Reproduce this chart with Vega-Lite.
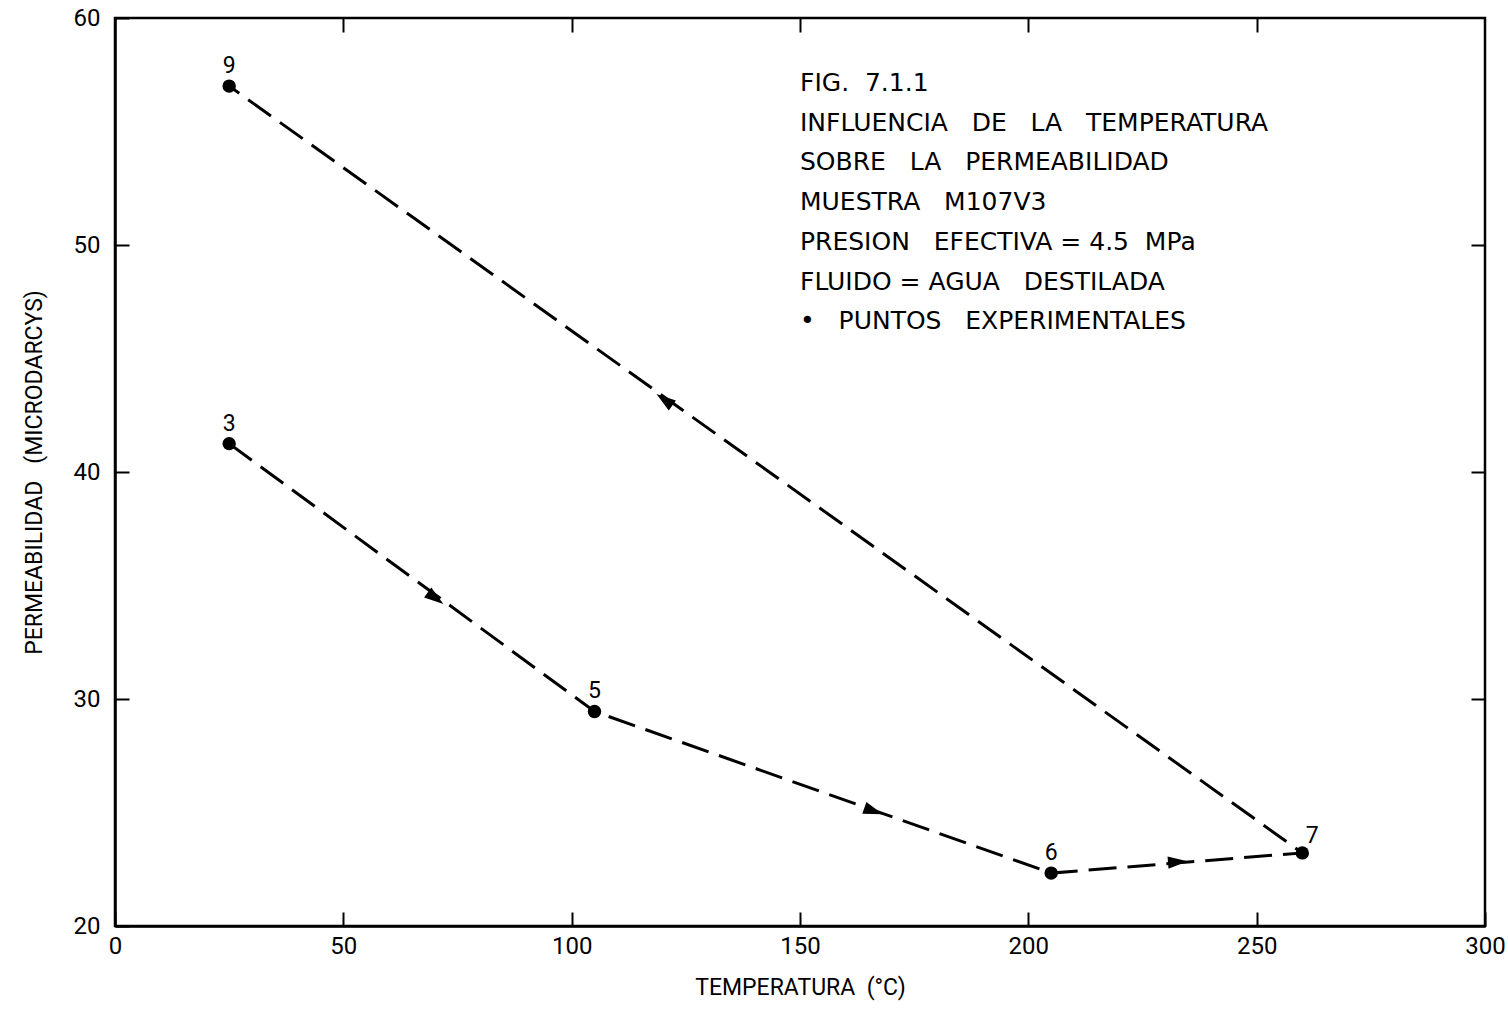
{
  "$schema": "https://vega.github.io/schema/vega-lite/v6.json",
  "autosize": {"type": "none"},
  "padding": {"left": 115, "top": 18, "right": 23, "bottom": 102},
  "width": 1370,
  "height": 908,
  "background": "white",
  "config": {
    "view": {"stroke": "black", "strokeWidth": 2.5},
    "font": "Roboto",
    "axis": {
      "grid": false,
      "domainColor": "black",
      "domainWidth": 2.5,
      "tickColor": "black",
      "tickWidth": 2,
      "tickSize": -14,
      "labelColor": "black",
      "labelFontSize": 24,
      "labelFont": "Roboto",
      "titleFont": "Roboto",
      "titleFontSize": 23,
      "titleFontWeight": "normal",
      "titleColor": "black",
      "labelFlush": false,
      "labelOverlap": false
    }
  },
  "datasets": {
    "points": [
      {"temp": 25, "perm": 41.25, "label": "3", "seq": 1},
      {"temp": 105, "perm": 29.45, "label": "5", "seq": 2},
      {"temp": 205, "perm": 22.33, "label": "6", "seq": 3},
      {"temp": 260, "perm": 23.22, "label": "7", "seq": 4},
      {"temp": 25, "perm": 57.0, "label": "9", "seq": 5}
    ],
    "arrows": [
      {"temp": 70.1, "perm": 34.45, "heading": 126.3},
      {"temp": 166.0, "perm": 25.07, "heading": 109.3},
      {"temp": 232.6, "perm": 22.82, "heading": 85.5},
      {"temp": 120.4, "perm": 43.17, "heading": 305.5}
    ],
    "notes": [
      {"temp": 150, "perm": 56.78, "text": "FIG.\u00a0\u00a07.1.1\nINFLUENCIA\u00a0\u00a0\u00a0DE\u00a0\u00a0\u00a0LA\u00a0\u00a0\u00a0TEMPERATURA\nSOBRE\u00a0\u00a0\u00a0LA\u00a0\u00a0\u00a0PERMEABILIDAD\nMUESTRA\u00a0\u00a0\u00a0M107V3\nPRESION\u00a0\u00a0\u00a0EFECTIVA\u00a0=\u00a04.5\u00a0\u00a0MPa\nFLUIDO\u00a0=\u00a0AGUA\u00a0\u00a0\u00a0DESTILADA\n•\u00a0\u00a0\u00a0PUNTOS\u00a0\u00a0\u00a0EXPERIMENTALES"}
    ]
  },
  "layer": [
    {
      "data": {"name": "points"},
      "mark": {"type": "line", "color": "black", "strokeWidth": 3, "strokeDash": [28, 11]},
      "encoding": {
        "x": {"field": "temp", "type": "quantitative", "scale": {"domain": [0, 300], "nice": false, "zero": false},
          "axis": {"orient": "bottom", "values": [0, 50, 100, 150, 200, 250, 300], "title": "TEMPERATURA\u00a0\u00a0(°C)", "labelFontSize": 24, "labelPadding": 22, "titlePadding": 18}},
        "y": {"field": "perm", "type": "quantitative", "scale": {"domain": [20, 60], "nice": false, "zero": false},
          "axis": {"orient": "left", "values": [20, 30, 40, 50, 60], "title": "PERMEABILIDAD\u00a0\u00a0\u00a0(MICRODARCYS)", "labelFontSize": 24, "labelPadding": 29, "titlePadding": 27}},
        "order": {"field": "seq", "type": "quantitative"}
      }
    },
    {
      "data": {"name": "points"},
      "mark": {"type": "point", "filled": true, "color": "black", "size": 180, "opacity": 1},
      "encoding": {
        "x": {"field": "temp", "type": "quantitative", "scale": {"domain": [0, 300], "nice": false, "zero": false},
          "axis": {"orient": "top", "values": [50, 100, 150, 200, 250], "labels": false, "title": null, "domain": false}},
        "y": {"field": "perm", "type": "quantitative", "scale": {"domain": [20, 60], "nice": false, "zero": false},
          "axis": {"orient": "right", "values": [30, 40, 50], "labels": false, "title": null, "domain": false}}
      }
    },
    {
      "data": {"name": "arrows"},
      "mark": {"type": "point", "filled": true, "color": "black", "opacity": 1, "size": 420, "shape": "M0,-1L0.6,0.9L-0.6,0.9Z"},
      "encoding": {
        "x": {"field": "temp", "type": "quantitative", "scale": {"domain": [0, 300], "nice": false, "zero": false}, "axis": null},
        "y": {"field": "perm", "type": "quantitative", "scale": {"domain": [20, 60], "nice": false, "zero": false}, "axis": null},
        "angle": {"field": "heading", "type": "quantitative", "scale": null}
      }
    },
    {
      "data": {"name": "points"},
      "transform": [{"filter": "datum.label != '7'"}],
      "mark": {"type": "text", "color": "black", "fontSize": 23, "dy": -20, "baseline": "middle", "align": "center"},
      "encoding": {
        "x": {"field": "temp", "type": "quantitative", "scale": {"domain": [0, 300], "nice": false, "zero": false}, "axis": null},
        "y": {"field": "perm", "type": "quantitative", "scale": {"domain": [20, 60], "nice": false, "zero": false}, "axis": null},
        "text": {"field": "label"}
      }
    },
    {
      "data": {"name": "points"},
      "transform": [{"filter": "datum.label == '7'"}],
      "mark": {"type": "text", "color": "black", "fontSize": 23, "dy": -17, "dx": 10, "baseline": "middle", "align": "center"},
      "encoding": {
        "x": {"field": "temp", "type": "quantitative", "scale": {"domain": [0, 300], "nice": false, "zero": false}, "axis": null},
        "y": {"field": "perm", "type": "quantitative", "scale": {"domain": [20, 60], "nice": false, "zero": false}, "axis": null},
        "text": {"field": "label"}
      }
    },
    {
      "data": {"name": "notes"},
      "mark": {"type": "text", "color": "black", "font": "DejaVu Sans", "fontSize": 25, "align": "left", "baseline": "alphabetic", "lineBreak": "\n", "lineHeight": 39.7},
      "encoding": {
        "x": {"field": "temp", "type": "quantitative", "scale": {"domain": [0, 300], "nice": false, "zero": false}, "axis": null},
        "y": {"field": "perm", "type": "quantitative", "scale": {"domain": [20, 60], "nice": false, "zero": false}, "axis": null},
        "text": {"field": "text"}
      }
    }
  ],
  "resolve": {"axis": {"x": "independent", "y": "independent"}}
}
